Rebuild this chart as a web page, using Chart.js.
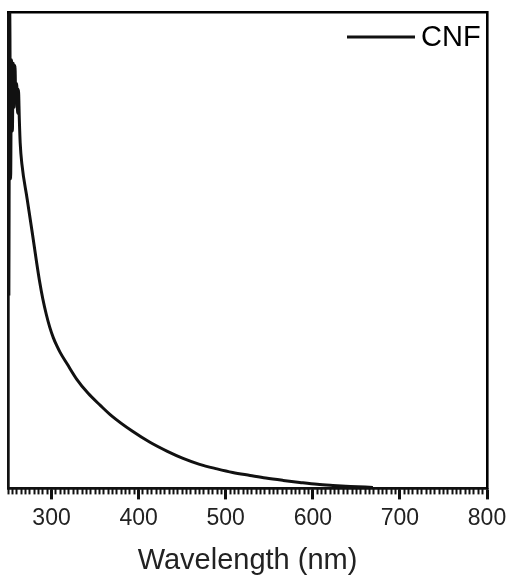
<!DOCTYPE html>
<html>
<head>
<meta charset="utf-8">
<script src="https://cdn.jsdelivr.net/npm/chart.js@4.4.1/dist/chart.umd.min.js"></script>
<style>
  html, body { margin: 0; padding: 0; background: #fff; }
  #wrap { width: 507px; height: 575px; }
</style>
</head>
<body>
<div id="wrap"><canvas id="uvChart" width="507" height="575"></canvas></div>
<script>
"use strict";

// Absorption spectrum (y units arbitrary)
const wavelength = [251, 252, 253, 254, 255, 256, 257, 258, 259, 260, 261, 262, 263, 264,
  266, 272, 278, 283, 286, 290, 294, 298, 302, 306, 310, 318, 329, 342, 356, 369, 393, 413,
  433, 451, 470, 490, 508, 528, 546, 566, 585, 605, 623, 643, 669];
const absorbance = [1.62, 4.0, 2.6, 3.6, 3.0, 3.57, 3.2, 3.55, 3.25, 3.40, 3.15, 3.35, 3.1, 2.9,
  2.72, 2.43, 2.14, 1.89, 1.75, 1.59, 1.46, 1.352, 1.266, 1.198, 1.14, 1.044, 0.916, 0.798, 0.697,
  0.609, 0.479, 0.387, 0.311, 0.252, 0.202, 0.164, 0.134, 0.109, 0.087, 0.067, 0.05, 0.034,
  0.025, 0.017, 0.008];
const seriesLabel = "CNF";
const xTitle = "Wavelength (nm)";

const FONT = "'Liberation Sans', Arial, sans-serif";

// legend drawn inside the plot, top right
const insideLegend = {
  id: "insideLegend",
  afterDraw(chart) {
    const { ctx, chartArea } = chart;
    const ds = chart.data.datasets[0];
    const y = chartArea.top + 25;
    ctx.save();
    ctx.strokeStyle = ds.borderColor;
    ctx.lineWidth = 3;
    ctx.beginPath();
    ctx.moveTo(chartArea.right - 140, y);
    ctx.lineTo(chartArea.right - 72, y);
    ctx.stroke();
    ctx.fillStyle = "#000";
    ctx.font = "29px " + FONT;
    ctx.textBaseline = "middle";
    ctx.textAlign = "left";
    ctx.fillText(ds.label, chartArea.right - 66, y + 1);
    ctx.restore();
  }
};

const frameAxis = (position) => ({
  type: "linear",
  position: position,
  display: true,
  grid: { display: false, drawTicks: false },
  ticks: { display: false },
  border: { display: true, color: "#000", width: 2.6 }
});

new Chart(document.getElementById("uvChart"), {
  type: "line",
  data: {
    labels: wavelength,
    datasets: [{
      label: seriesLabel,
      data: wavelength.map((w, i) => ({ x: w, y: absorbance[i] })),
      borderColor: "#111",
      backgroundColor: "#111",
      borderWidth: 3,
      pointRadius: 0,
      cubicInterpolationMode: "monotone",
      fill: false
    }]
  },
  options: {
    responsive: false,
    animation: false,
    devicePixelRatio: 1,
    layout: { padding: { left: 8, right: 20, top: 12, bottom: 0 } },
    plugins: { legend: { display: false }, tooltip: { enabled: false } },
    scales: {
      xMinor: {
        type: "linear",
        position: "bottom",
        weight: 0,
        min: 250,
        max: 800,
        grid: { display: true, drawOnChartArea: false, drawTicks: true, tickLength: 6, tickWidth: 2, tickColor: "#111" },
        border: { display: false },
        ticks: { display: false, stepSize: 5, maxTicksLimit: 200 },
        afterFit(scale) { scale.height = 0; }
      },
      x: {
        type: "linear",
        position: "bottom",
        weight: 1,
        min: 250,
        max: 800,
        grid: {
          display: true,
          drawOnChartArea: false,
          drawTicks: true,
          tickLength: 11,
          tickWidth: 3,
          tickColor: (ctx) => (ctx.tick && ctx.tick.value % 100 === 0 ? "#111" : "rgba(0,0,0,0)")
        },
        border: { display: true, color: "#111", width: 2.7 },
        ticks: {
          stepSize: 50,
          padding: 5,
          color: "#222",
          font: { family: FONT, size: 23 },
          maxRotation: 0,
          autoSkip: false,
          callback: (v) => (v % 100 === 0 ? String(v) : "")
        },
        title: {
          display: true,
          text: xTitle,
          color: "#222",
          font: { family: FONT, size: 29, lineHeight: 1 },
          padding: { top: 9, bottom: 0 }
        },
        afterFit(scale) { scale.paddingLeft = 0; scale.paddingRight = 0; }
      },
      y: {
        type: "linear",
        position: "left",
        min: 0,
        max: 4,
        grid: { display: false, drawTicks: false },
        ticks: { display: false },
        border: { display: true, color: "#111", width: 2.7 }
      },
      yRight: frameAxis("right"),
      xTop: frameAxis("top")
    }
  },
  plugins: [insideLegend]
});
</script>
</body>
</html>
